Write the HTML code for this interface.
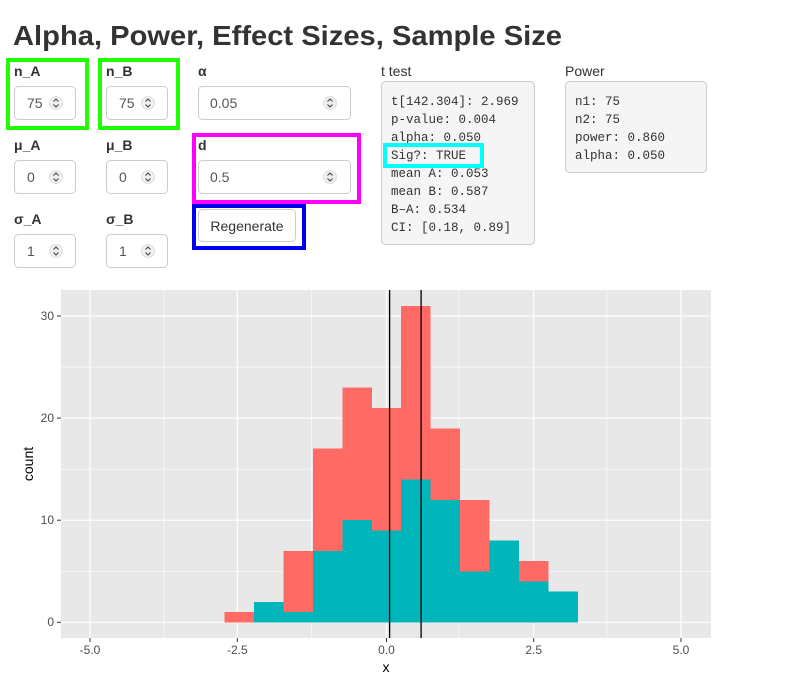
<!DOCTYPE html>
<html><head><meta charset="utf-8"><style>
html,body{margin:0;padding:0;background:#fff;}
svg{display:block;}
.lb{font-family:"Liberation Sans",sans-serif;font-size:14px;font-weight:bold;fill:#333;}
.in{font-family:"Liberation Sans",sans-serif;font-size:14px;fill:#555;}
.mono{font-family:"Liberation Mono","DejaVu Sans Mono",monospace;font-size:12.5px;fill:#333;}
.ax{font-family:"Liberation Sans",sans-serif;font-size:12px;fill:#4d4d4d;}
</style></head><body>
<svg width="786" height="685" viewBox="0 0 786 685" xmlns="http://www.w3.org/2000/svg">
<defs>
<g id="spin"><circle cx="0" cy="0" r="6.5" fill="#f0f0f0" stroke="#ccc" stroke-width="0.6"/><path d="M-2.5,-1.5 L0,-4 L2.5,-1.5 M-2.5,1.5 L0,4 L2.5,1.5" stroke="#444" stroke-width="1.1" fill="none"/></g>
</defs>
<text x="13" y="45" font-family="Liberation Sans,sans-serif" font-size="28" font-weight="bold" fill="#333" textLength="549" lengthAdjust="spacingAndGlyphs">Alpha, Power, Effect Sizes, Sample Size</text>

<text class="lb" x="14" y="76">n_A</text>
<rect x="14.5" y="86.5" width="61" height="33" rx="4" fill="#fff" stroke="#ccc"/>
<text class="in" x="27" y="108">75</text><use href="#spin" x="56" y="103"/>
<rect x="8" y="60" width="79" height="68" fill="none" stroke="#22ff00" stroke-width="4"/>
<text class="lb" x="106" y="76">n_B</text>
<rect x="106.5" y="86.5" width="61" height="33" rx="4" fill="#fff" stroke="#ccc"/>
<text class="in" x="119" y="108">75</text><use href="#spin" x="148" y="103"/>
<rect x="100" y="60" width="78" height="68" fill="none" stroke="#22ff00" stroke-width="4"/>
<text class="lb" x="198" y="76">α</text>
<rect x="198.5" y="86.5" width="152" height="33" rx="4" fill="#fff" stroke="#ccc"/>
<text class="in" x="210" y="108">0.05</text><use href="#spin" x="330" y="103"/>
<text class="lb" x="14" y="150">μ_A</text>
<rect x="14.5" y="160.5" width="61" height="33" rx="4" fill="#fff" stroke="#ccc"/>
<text class="in" x="27" y="182">0</text><use href="#spin" x="56" y="177"/>
<text class="lb" x="106" y="150">μ_B</text>
<rect x="106.5" y="160.5" width="61" height="33" rx="4" fill="#fff" stroke="#ccc"/>
<text class="in" x="119" y="182">0</text><use href="#spin" x="148" y="177"/>
<text class="lb" x="198" y="150">d</text>
<rect x="198.5" y="160.5" width="152" height="33" rx="4" fill="#fff" stroke="#ccc"/>
<text class="in" x="210" y="182">0.5</text><use href="#spin" x="330" y="177"/>
<rect x="194" y="135" width="165" height="67" fill="none" stroke="#ff00ff" stroke-width="4"/>
<text class="lb" x="14" y="224">σ_A</text>
<rect x="14.5" y="234.5" width="61" height="33" rx="4" fill="#fff" stroke="#ccc"/>
<text class="in" x="27" y="256">1</text><use href="#spin" x="56" y="251"/>
<text class="lb" x="106" y="224">σ_B</text>
<rect x="106.5" y="234.5" width="61" height="33" rx="4" fill="#fff" stroke="#ccc"/>
<text class="in" x="119" y="256">1</text><use href="#spin" x="148" y="251"/>
<rect x="198.5" y="209.5" width="97" height="32" rx="4" fill="#fff" stroke="#ccc"/>
<text x="247" y="231" text-anchor="middle" font-family="Liberation Sans,sans-serif" font-size="14" fill="#333">Regenerate</text>
<rect x="194" y="206" width="110" height="42" fill="none" stroke="#0000ee" stroke-width="4"/>

<text x="381" y="76" font-family="Liberation Sans,sans-serif" font-size="14" fill="#333">t test</text>
<rect x="381.5" y="81.5" width="153" height="163" rx="4" fill="#f5f5f5" stroke="#ccc"/>
<g class="mono">
<text x="391" y="105">t[142.304]: 2.969</text>
<text x="391" y="123">p-value: 0.004</text>
<text x="391" y="141">alpha: 0.050</text>
<text x="391" y="159">Sig?: TRUE</text>
<text x="391" y="177">mean A: 0.053</text>
<text x="391" y="195">mean B: 0.587</text>
<text x="391" y="213">B–A: 0.534</text>
<text x="391" y="231">CI: [0.18, 0.89]</text>
</g>
<rect x="385" y="145" width="97" height="21" fill="none" stroke="#00ffff" stroke-width="4"/>
<text x="565" y="76" font-family="Liberation Sans,sans-serif" font-size="14" fill="#333">Power</text>
<rect x="565.5" y="81.5" width="141" height="91" rx="4" fill="#f5f5f5" stroke="#ccc"/>
<g class="mono">
<text x="575" y="105">n1: 75</text>
<text x="575" y="123">n2: 75</text>
<text x="575" y="141">power: 0.860</text>
<text x="575" y="159">alpha: 0.050</text>
</g>

<rect x="61" y="290" width="650" height="348" fill="#e8e8e8"/>
<g stroke="#fff" stroke-width="0.6">
<line x1="61" x2="711" y1="571.3" y2="571.3"/><line x1="61" x2="711" y1="469.2" y2="469.2"/><line x1="61" x2="711" y1="367.1" y2="367.1"/>
<line y1="290" y2="638" x1="164" x2="164"/><line y1="290" y2="638" x1="311.7" x2="311.7"/><line y1="290" y2="638" x1="459" x2="459"/><line y1="290" y2="638" x1="607" x2="607"/>
</g>
<g stroke="#fff" stroke-width="1.2">
<line x1="61" x2="711" y1="622.3" y2="622.3"/><line x1="61" x2="711" y1="520.2" y2="520.2"/><line x1="61" x2="711" y1="418.1" y2="418.1"/><line x1="61" x2="711" y1="316" y2="316"/>
<line y1="290" y2="638" x1="90" x2="90"/><line y1="290" y2="638" x1="237.3" x2="237.3"/><line y1="290" y2="638" x1="386.5" x2="386.5"/><line y1="290" y2="638" x1="533.7" x2="533.7"/><line y1="290" y2="638" x1="681" x2="681"/>
</g>
<g shape-rendering="crispEdges">
<rect x="224.5" y="612.1" width="29.5" height="10.2" fill="#ff6b64"/>
<rect x="283.4" y="550.8" width="29.5" height="71.5" fill="#ff6b64"/>
<rect x="312.8" y="448.7" width="29.5" height="173.6" fill="#ff6b64"/>
<rect x="342.3" y="387.5" width="29.5" height="234.8" fill="#ff6b64"/>
<rect x="371.8" y="407.9" width="29.5" height="214.4" fill="#ff6b64"/>
<rect x="401.2" y="305.8" width="29.5" height="316.5" fill="#ff6b64"/>
<rect x="430.7" y="428.3" width="29.5" height="194" fill="#ff6b64"/>
<rect x="460.1" y="499.8" width="29.5" height="122.5" fill="#ff6b64"/>
<rect x="519" y="561" width="29.5" height="61.3" fill="#ff6b64"/>
<rect x="253.9" y="601.9" width="29.5" height="20.4" fill="#00b6bb"/>
<rect x="283.4" y="612.1" width="29.5" height="10.2" fill="#00b6bb"/>
<rect x="312.8" y="550.8" width="29.5" height="71.5" fill="#00b6bb"/>
<rect x="342.3" y="520.2" width="29.5" height="102.1" fill="#00b6bb"/>
<rect x="371.8" y="530.4" width="29.5" height="91.9" fill="#00b6bb"/>
<rect x="401.2" y="479.4" width="29.5" height="142.9" fill="#00b6bb"/>
<rect x="430.7" y="499.8" width="29.5" height="122.5" fill="#00b6bb"/>
<rect x="460.1" y="571.3" width="29.5" height="51" fill="#00b6bb"/>
<rect x="489.6" y="540.6" width="29.5" height="81.7" fill="#00b6bb"/>
<rect x="519" y="581.5" width="29.5" height="40.8" fill="#00b6bb"/>
<rect x="548.5" y="591.7" width="29.5" height="30.6" fill="#00b6bb"/>
</g>
<line x1="389.6" x2="389.6" y1="290" y2="638" stroke="#000" stroke-width="1.3"/>
<line x1="421.1" x2="421.1" y1="290" y2="638" stroke="#000" stroke-width="1.3"/>
<g stroke="#333" stroke-width="1">
<line x1="57" x2="61" y1="622.3" y2="622.3"/><line x1="57" x2="61" y1="520.2" y2="520.2"/><line x1="57" x2="61" y1="418.1" y2="418.1"/><line x1="57" x2="61" y1="316" y2="316"/>
<line x1="90" x2="90" y1="638" y2="642"/><line x1="237.3" x2="237.3" y1="638" y2="642"/><line x1="386.5" x2="386.5" y1="638" y2="642"/><line x1="533.7" x2="533.7" y1="638" y2="642"/><line x1="681" x2="681" y1="638" y2="642"/>
</g>
<g class="ax" text-anchor="end">
<text x="54" y="626">0</text><text x="54" y="524">10</text><text x="54" y="422">20</text><text x="54" y="320">30</text>
</g>
<g class="ax" text-anchor="middle">
<text x="90" y="654">-5.0</text><text x="237.3" y="654">-2.5</text><text x="386.5" y="654">0.0</text><text x="533.7" y="654">2.5</text><text x="681" y="654">5.0</text>
</g>
<text x="386" y="672" text-anchor="middle" font-family="Liberation Sans,sans-serif" font-size="14" fill="#000">x</text>
<text transform="translate(33,464) rotate(-90)" text-anchor="middle" font-family="Liberation Sans,sans-serif" font-size="14" fill="#000">count</text>
</svg>
</body></html>
